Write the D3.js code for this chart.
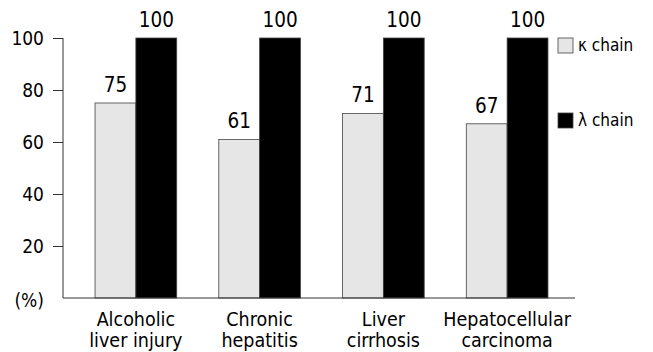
<!DOCTYPE html>
<html>
<head>
<meta charset="utf-8">
<script src="https://cdn.jsdelivr.net/npm/d3@7"></script>
<style>
  html, body { margin: 0; padding: 0; background: #fff; }
  svg { display: block; }
  text { font-family: "DejaVu Sans Condensed", "DejaVu Sans", sans-serif; fill: #000; }
</style>
</head>
<body>
<svg id="chart" width="653" height="352"></svg>
<script>
const categories = [["Alcoholic", "liver injury"], ["Chronic", "hepatitis"], ["Liver", "cirrhosis"], ["Hepatocellular", "carcinoma"]];
const seriesNames = ["κ chain", "λ chain"];
const kappaValues = [75, 61, 71, 67];
const lambdaValues = [100, 100, 100, 100];
const yTicks = [20, 40, 60, 80, 100];
const seriesColors = ["#e6e6e6", "#000000"];

const svg = d3.select("#chart");
const catKeys = categories.map(c => c.join(" "));

const x0 = d3.scaleBand().domain(catKeys).range([74, 569]).paddingInner(0.34).paddingOuter(0.17);
const x1 = d3.scaleBand().domain(seriesNames).range([0, x0.bandwidth()]).padding(0);
const y = d3.scaleLinear().domain([0, 100]).range([298, 38]);

const data = catKeys.map((k, i) => ({
  key: k,
  values: [
    { s: seriesNames[0], v: kappaValues[i] },
    { s: seriesNames[1], v: lambdaValues[i] }
  ]
}));

// bars
const groups = svg.append("g").selectAll("g").data(data).join("g")
  .attr("transform", d => `translate(${x0(d.key)},0)`);

groups.selectAll("rect").data(d => d.values).join("rect")
  .attr("x", d => x1(d.s))
  .attr("y", d => y(d.v))
  .attr("width", x1.bandwidth())
  .attr("height", d => y(0) - y(d.v))
  .attr("fill", (d, i) => seriesColors[i])
  .attr("stroke", "#444")
  .attr("stroke-width", 0.8);

groups.selectAll("text.val").data(d => d.values).join("text")
  .attr("class", "val")
  .attr("x", d => x1(d.s) + x1.bandwidth() / 2)
  .attr("y", d => y(d.v) - 11)
  .attr("text-anchor", "middle")
  .attr("font-size", 20.5)
  .text(d => d.v);

// y axis
const yAxis = d3.axisLeft(y).tickValues(yTicks).tickSize(10).tickPadding(9);
const yg = svg.append("g").attr("transform", "translate(63,0)").call(yAxis);
yg.select(".domain").remove();
yg.selectAll(".tick line").attr("stroke", "#333");
yg.selectAll(".tick text").attr("font-size", 19).attr("font-family", "DejaVu Sans Condensed, DejaVu Sans, sans-serif").attr("fill", "#000");
svg.append("line").attr("x1", 63).attr("x2", 63).attr("y1", y(100)).attr("y2", y(0)).attr("stroke", "#333");

// x axis baseline
svg.append("line").attr("x1", 63).attr("x2", 575).attr("y1", y(0)).attr("y2", y(0)).attr("stroke", "#333");

// (%) label
svg.append("text").attr("x", 44).attr("y", y(0) + 9).attr("text-anchor", "end")
  .attr("font-size", 19).text("(%)");

// category labels (one text per line)
const lineBaselines = [326, 347];
const catG = svg.append("g").selectAll("g").data(categories).join("g");
catG.each(function(d, i) {
  const cx = x0(catKeys[i]) + x0.bandwidth() / 2;
  d3.select(this).selectAll("text").data(d).join("text")
    .attr("x", cx)
    .attr("y", (t, j) => lineBaselines[j])
    .attr("text-anchor", "middle")
    .attr("font-size", 19.5)
    .text(t => t);
});

// legend
const legendY = [38, 113];
const lg = svg.append("g").selectAll("g").data(seriesNames).join("g")
  .attr("transform", (d, i) => `translate(558,${legendY[i]})`);
lg.append("rect").attr("width", 15).attr("height", 15)
  .attr("fill", (d, i) => seriesColors[i]).attr("stroke", "#444").attr("stroke-width", 0.8);
lg.append("text").attr("x", 20).attr("y", 13).attr("font-size", 17).text(d => d);
</script>
</body>
</html>
